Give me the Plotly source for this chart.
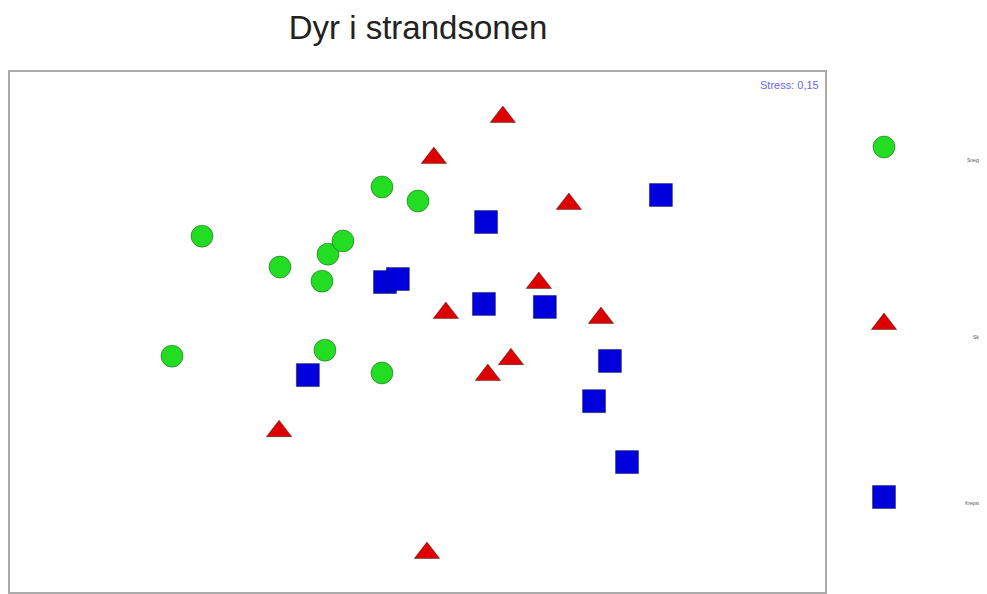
import plotly.graph_objects as go

# NMDS-like coordinates
green_x = [-0.72, -0.46, -0.30, -0.25, -0.32, -0.12, 0.00, -0.82, -0.31, -0.12]
green_y = [0.213, 0.110, 0.153, 0.197, 0.063, 0.377, 0.330, -0.187, -0.167, -0.243]

red_x = [0.283, 0.053, 0.503, 0.403, 0.093, 0.610, 0.310, 0.233, -0.463, 0.030]
red_y = [0.610, 0.473, 0.320, 0.057, -0.043, -0.060, -0.197, -0.250, -0.437, -0.843]

blue_x = [0.810, 0.227, -0.110, -0.067, 0.220, 0.423, 0.640, -0.367, 0.587, 0.697]
blue_y = [0.350, 0.260, 0.060, 0.070, -0.013, -0.023, -0.203, -0.250, -0.337, -0.540]

group_names = ["Snegler", "Skjell", "Krepsdyr"]
group_colors = ["#22dd22", "#dd0000", "#0000dd"]
group_symbols = ["circle", "triangle-up", "square"]
stress_text = "Stress: 0,15"
title_text = "Dyr i strandsonen"

W, H = 979, 586          # page adds an 8px body margin
ml, mr, mt, mb = 2, 0, 64, 2
pw = W - ml - mr
ph = H - mt - mb
main_right = 815 / pw
leg_left = main_right + 0.01

fig = go.Figure()
series = [(green_x, green_y), (red_x, red_y), (blue_x, blue_y)]
sizes = [22, 22, 23]
for (xs, ys), c, s, sz, nm in zip(series, group_colors, group_symbols, sizes, group_names):
    fig.add_trace(go.Scatter(x=xs, y=ys, mode="markers", name=nm, showlegend=False,
                             marker=dict(color=c, symbol=s, size=sz, opacity=1,
                                         line=dict(color="rgba(0,0,0,0.35)", width=1))))

# custom legend on a hidden axis to the right of the plot (coordinates = paper fractions)
leg_x = (876 - ml) / pw
leg_y = [1 - (139 - mt) / ph, 1 - (316 - mt) / ph, 1 - (489 - mt) / ph]
for c, s, sz, yy in zip(group_colors, group_symbols, sizes, leg_y):
    fig.add_trace(go.Scatter(x=[leg_x], y=[yy], mode="markers", xaxis="x2", yaxis="y2",
                             showlegend=False, cliponaxis=False,
                             marker=dict(color=c, symbol=s, size=sz, opacity=1,
                                         line=dict(color="rgba(0,0,0,0.35)", width=1))))
# labels sit at the right edge, as in the reference
label_offsets = [8, 13, 11]
for nm, yy, off in zip(group_names, leg_y, label_offsets):
    fig.add_annotation(x=1.0, y=yy - off / ph, xref="paper", yref="paper", text=nm,
                       showarrow=False, xanchor="right",
                       font=dict(size=5, color="#555", family="Liberation Sans"))

fig.add_annotation(x=0.995, y=0.99, xref="x domain", yref="y domain", text=stress_text,
                   showarrow=False, xanchor="right", yanchor="top",
                   font=dict(size=11, color="#6666ff", family="Liberation Sans"))

fig.update_layout(
    width=W, height=H, margin=dict(l=ml, r=mr, t=mt, b=mb),
    paper_bgcolor="white", plot_bgcolor="white",
    title=dict(text=title_text, x=410 / W, xanchor="center", y=1 - 19 / H, yanchor="middle",
               font=dict(size=33, color="#222", family="Liberation Sans")),
    xaxis=dict(domain=[0, main_right], range=[-1.36, 1.357], showgrid=False, zeroline=False,
               showticklabels=False, ticks="", showline=True, mirror=True,
               linecolor="#aaaaaa", linewidth=2),
    yaxis=dict(range=[-0.973, 0.76], showgrid=False, zeroline=False, showticklabels=False,
               ticks="", showline=True, mirror=True, linecolor="#aaaaaa", linewidth=2),
    xaxis2=dict(domain=[leg_left, 1], range=[leg_left, 1], visible=False, anchor="y2"),
    yaxis2=dict(domain=[0, 1], range=[0, 1], visible=False, anchor="x2"),
)

fig.write_html("out.html")
